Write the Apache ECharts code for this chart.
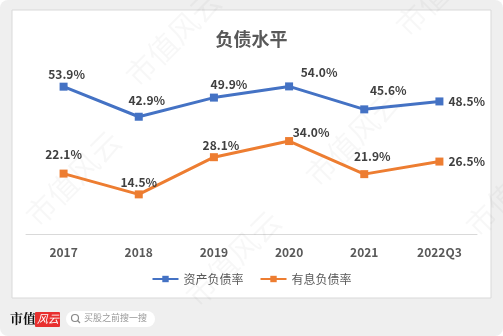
<!DOCTYPE html>
<html><head><meta charset="utf-8">
<script src="https://cdn.jsdelivr.net/npm/echarts@6/dist/echarts.min.js"></script>
<style>html,body{margin:0;padding:0;background:#fff}#c{width:503px;height:336px}</style>
</head><body><div id="c"></div>
<script>
var categories = ['2017','2018','2019','2020','2021','2022Q3'];
var assetDebtRatio = [53.9, 42.9, 49.9, 54.0, 45.6, 48.5];
var interestDebtRatio = [22.1, 14.5, 28.1, 34.0, 21.9, 26.5];
var seriesNames = ['资产负债率', '有息负债率'];
var titleText = '负债水平';

var blueOffsets = [[3,3],[8,-1],[15,2],[30,1],[24,-4],null];
var orangeOffsets = [[0,-4],[0,3],[7,3],[22,6],[8,-3],null];

function mk(vals, offs){
  return vals.map(function(v,i){
    var o = offs[i];
    if (!o) return {value:v, label:{position:'right', distance:5}};
    return {value:v, label:{position:'top', distance:5, offset:o}};
  });
}
var FONT = '"Noto Sans CJK SC","Microsoft YaHei",sans-serif';
var chart = echarts.init(document.getElementById('c'), null, {renderer:'canvas'});
var wm = [];
[[120,70],[390,20],[20,210],[300,170],[460,220],[180,290]].forEach(function(p){
  wm.push({type:'text', x:p[0], y:p[1], rotation:Math.PI/4, silent:true, z:1,
    style:{text:'市值风云', font:'30px '+FONT, fill:'rgba(0,0,0,0.03)'}});
});
chart.setOption({
  animation:false,
  backgroundColor:'#ffffff',
  graphic:[
    {type:'rect', shape:{x:0,y:0,width:503,height:336,r:8}, style:{fill:'#efefef'}, z:-10, silent:true},
    {type:'rect', shape:{x:12,y:10,width:479,height:288}, style:{fill:'#ffffff', stroke:'#d9d9d9', lineWidth:1}, z:-9, silent:true},
    {type:'text', x:10, y:312, style:{text:'市值', font:'bold 13px "Noto Serif CJK SC","Noto Sans CJK SC",serif', fill:'#111'}, z:5},
    {type:'rect', shape:{x:35,y:312,width:25,height:15,r:1}, style:{fill:'#e8302f'}, z:5},
    {type:'text', x:37, y:313, style:{text:'风云', font:'italic 11px '+FONT, fill:'#ffffff'}, z:6},
    {type:'rect', shape:{x:66,y:311,width:89,height:16,r:8}, style:{fill:'#ffffff'}, z:5},
    {type:'circle', shape:{cx:75,cy:318,r:3.5}, style:{fill:'none', stroke:'#888', lineWidth:1.2}, z:6},
    {type:'line', shape:{x1:77.5,y1:320.5,x2:80,y2:323}, style:{stroke:'#888', lineWidth:1.2}, z:6},
    {type:'text', x:84, y:313, style:{text:'买股之前搜一搜', font:'9px '+FONT, fill:'#999'}, z:6}
  ].concat(wm),
  title:{text:titleText, left:'center', top:25, textStyle:{fontFamily:FONT, fontSize:18, fontWeight:'bold', color:'#595959'}},
  legend:{data:seriesNames, bottom:46, left:'center', itemWidth:26, itemHeight:8, itemGap:16,
    textStyle:{fontFamily:FONT, fontSize:12, color:'#595959'}},
  grid:{left:26, right:26, top:70, bottom:102},
  xAxis:{type:'category', data:categories, boundaryGap:true,
    axisLine:{lineStyle:{color:'#d9d9d9', width:1}}, axisTick:{show:false},
    axisLabel:{margin:12, fontFamily:FONT, fontSize:12, fontWeight:'bold', color:'#595959'}},
  yAxis:{type:'value', min:0, max:60, show:false, splitLine:{show:false}},
  series:[
    {name:seriesNames[0], type:'line', data:mk(assetDebtRatio, blueOffsets), symbol:'rect', symbolSize:8,
     itemStyle:{color:'#4472C4'}, lineStyle:{color:'#4472C4', width:3}, z:3,
     label:{show:true, formatter:function(p){return p.value.toFixed(1)+'%';}, fontFamily:FONT, fontSize:12, fontWeight:'bold', color:'#404040'}},
    {name:seriesNames[1], type:'line', data:mk(interestDebtRatio, orangeOffsets), symbol:'rect', symbolSize:8,
     itemStyle:{color:'#ED7D31'}, lineStyle:{color:'#ED7D31', width:3}, z:3,
     label:{show:true, formatter:function(p){return p.value.toFixed(1)+'%';}, fontFamily:FONT, fontSize:12, fontWeight:'bold', color:'#404040'}}
  ]
});
</script></body></html>
